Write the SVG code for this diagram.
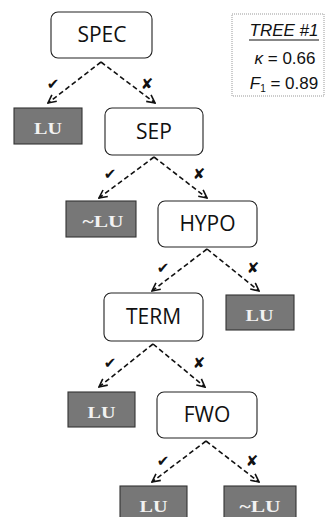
<svg xmlns="http://www.w3.org/2000/svg" width="326" height="517" viewBox="0 0 326 517">
<style>
.node rect{fill:#fff;stroke:#222;stroke-width:1.1}
.node text{font-family:"Open Sans","Liberation Sans",sans-serif;font-size:21px;fill:#111;text-anchor:middle}
.leaf rect{fill:#777;stroke:#333;stroke-width:1.1}
.leaf text{font-family:"Liberation Serif","Times New Roman",serif;font-weight:bold;font-size:17px;fill:#f2f2f2;text-anchor:middle}
.edge{stroke:#111;stroke-width:1.6;stroke-dasharray:5 3;fill:none;marker-end:url(#arr)}
.mk{font-family:"DejaVu Sans",sans-serif;font-size:15px;text-anchor:middle;fill:#111}
.info{font-family:"Liberation Sans",Arial,sans-serif;font-size:17px;fill:#111;text-anchor:middle}
</style>
<defs>
<marker id="arr" viewBox="0 0 10 10" refX="9" refY="5" markerWidth="10" markerHeight="10" markerUnits="userSpaceOnUse" orient="auto">
<path d="M1,1 L9,5 L1,9" fill="none" stroke="#111" stroke-width="1.6" stroke-dasharray="none"/>
</marker>
</defs>
<g id="legend">
<rect x="232" y="14" width="92" height="82" fill="#fff" stroke="#999" stroke-width="1" stroke-dasharray="1 1"/>
<text class="info" x="284" y="36" font-style="italic">TREE #1</text>
<line x1="249" y1="40" x2="319" y2="40" stroke="#111" stroke-width="1.2"/>
<text class="info" x="285" y="64"><tspan font-style="italic">κ</tspan> = 0.66</text>
<text class="info" x="284" y="89"><tspan font-style="italic">F</tspan><tspan font-size="10" dy="3">1</tspan><tspan dy="-3"> = 0.89</tspan></text>
</g>
<g id="connectors">
<path class="edge" d="M101,62 L48,103"/>
<path class="edge" d="M101,62 L155,103"/>
<path class="edge" d="M154,157 L99,198"/>
<path class="edge" d="M154,157 L207,198"/>
<path class="edge" d="M207,249 L152,291"/>
<path class="edge" d="M207,249 L259,291"/>
<path class="edge" d="M153,344 L99,387"/>
<path class="edge" d="M153,344 L205,387"/>
<path class="edge" d="M206,441 L152,482"/>
<path class="edge" d="M206,441 L259,482"/>
<text class="mk" x="53" y="89">✔</text>
<text class="mk" x="147" y="89">✘</text>
<text class="mk" x="110" y="179">✔</text>
<text class="mk" x="199" y="179">✘</text>
<text class="mk" x="163" y="273">✔</text>
<text class="mk" x="253" y="273">✘</text>
<text class="mk" x="110" y="368">✔</text>
<text class="mk" x="199" y="368">✘</text>
<text class="mk" x="163" y="466">✔</text>
<text class="mk" x="252" y="466">✘</text>
</g>
<g id="spec" class="node"><rect x="51" y="12" width="101" height="46" rx="7"/><text x="102" y="42">SPEC</text></g>
<g id="sep" class="node"><rect x="105" y="108" width="98" height="47" rx="7"/><text x="154" y="139">SEP</text></g>
<g id="hypo" class="node"><rect x="158" y="201" width="99" height="46" rx="7"/><text x="207.5" y="231">HYPO</text></g>
<g id="term" class="node"><rect x="104" y="293" width="99" height="48" rx="7"/><text x="153.5" y="324">TERM</text></g>
<g id="fwo" class="node"><rect x="157" y="392" width="100" height="46" rx="7"/><text x="207" y="422">FWO</text></g>
<g id="lu1" class="leaf"><rect x="14" y="108" width="68" height="36"/><text x="48" y="134" textLength="28" lengthAdjust="spacingAndGlyphs">LU</text></g>
<g id="nlu1" class="leaf"><rect x="66" y="201" width="70" height="36"/><text x="103" y="227" textLength="41" lengthAdjust="spacingAndGlyphs">~LU</text></g>
<g id="lu2" class="leaf"><rect x="226" y="295" width="68" height="35"/><text x="259.5" y="321" textLength="28" lengthAdjust="spacingAndGlyphs">LU</text></g>
<g id="lu3" class="leaf"><rect x="68" y="392" width="67" height="35"/><text x="101.5" y="418" textLength="28" lengthAdjust="spacingAndGlyphs">LU</text></g>
<g id="lu4" class="leaf"><rect x="120" y="486" width="67" height="40"/><text x="153.5" y="512" textLength="28" lengthAdjust="spacingAndGlyphs">LU</text></g>
<g id="nlu2" class="leaf"><rect x="224" y="486" width="72" height="40"/><text x="260" y="512" textLength="41" lengthAdjust="spacingAndGlyphs">~LU</text></g>
</svg>
